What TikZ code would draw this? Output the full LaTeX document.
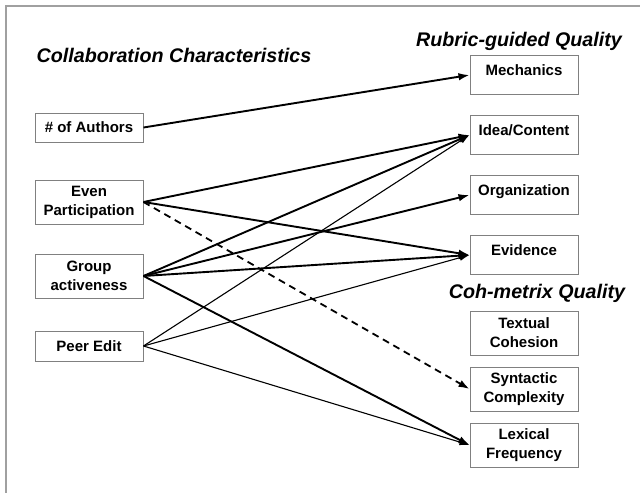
\documentclass[tikz,border=0pt]{standalone}
\usepackage{fontspec}
\setmainfont{Liberation Sans}
\usetikzlibrary{arrows.meta,positioning}
\definecolor{Frame}{HTML}{A0A0A0}
\definecolor{Edge}{HTML}{808080}
\definecolor{Ink}{HTML}{000000}
\tikzset{
  box/.style={draw=Edge,fill=white,line width=1pt,minimum width=108pt,minimum height=44pt,align=center,inner sep=0pt,font=\fontsize{15}{19}\selectfont\bfseries},
  onebox/.style={box,minimum height=0pt,text height=19.5pt,text depth=19.5pt},
  heading/.style={font=\fontsize{19.7}{23}\selectfont\bfseries\itshape,inner sep=0pt},
  flow/.style={-{Latex[length=11pt,width=7.5pt]},draw=Ink,line width=1.9pt},
  thinflow/.style={-{Latex[length=10pt,width=6.5pt]},draw=Ink,line width=1.1pt},
  dashflow/.style={-{Latex[length=11pt,width=7.5pt]},draw=Ink,line width=1.8pt,dash pattern=on 7pt off 5pt},
  frameline/.style={draw=Frame,line width=1.3pt}
}
\begin{document}
\begin{tikzpicture}[x=1pt,y=-1pt]
      \useasboundingbox (0,0) rectangle (640,493);
      \draw[frameline] (640,6) -- (6,6) -- (6,493);
      % collaboration side
      \node[heading] (collab) at (174,55) {Collaboration Characteristics};
      \node[box,minimum height=29pt] (authors) at (89,127.5) {\# of Authors};
      \node[box,below=37pt of authors] (even) {Even\\Participation};
      \node[box,below=29pt of even] (group) {Group\\activeness};
      \node[box,minimum height=30pt,below=32pt of group] (peer) {Peer Edit};
      % quality side
      \node[heading] (rubric) at (519,41) {Rubric-guided Quality};
      \node[onebox] (mech) at (524,75) {Mechanics};
      \node[onebox,below=20pt of mech] (idea) {Idea/Content};
      \node[onebox,below=20pt of idea] (organ) {Organization};
      \node[onebox,below=20pt of organ] (evid) {Evidence};
      \node[heading] (cohmetrix) at (537,293) {Coh-metrix Quality};
      \node[box] (textual) at (524,333) {Textual\\Cohesion};
      \node[box,below=11pt of textual] (syntax) {Syntactic\\Complexity};
      \node[box,below=11pt of syntax] (lexical) {Lexical\\Frequency};
      \draw[flow] (authors.east) -- (mech.west);
      \draw[flow] (even.east) -- (idea.west);
      \draw[flow] (even.east) -- (evid.west);
      \draw[dashflow] (even.east) -- (syntax.west);
      \draw[flow] (group.east) -- (idea.west);
      \draw[flow] (group.east) -- (organ.west);
      \draw[flow] (group.east) -- (evid.west);
      \draw[flow] (group.east) -- (lexical.west);
      \draw[thinflow] (peer.east) -- (idea.west);
      \draw[thinflow] (peer.east) -- (evid.west);
      \draw[thinflow] (peer.east) -- (lexical.west);
    \end{tikzpicture}
\end{document}
